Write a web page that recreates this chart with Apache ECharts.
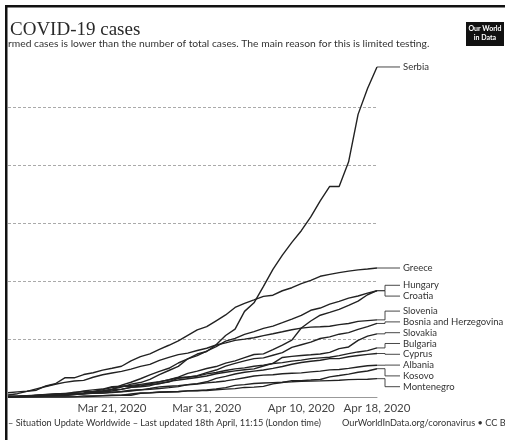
<!DOCTYPE html>
<html>
<head>
<meta charset="utf-8">
<script src="https://cdn.jsdelivr.net/npm/echarts@6/dist/echarts.min.js"></script>
<style>
html,body{margin:0;padding:0;background:#fff;}
#c{width:505px;height:440px;}
</style>
</head>
<body>
<div id="c"></div>
<script>
const dates = ['2020-03-10','2020-03-11','2020-03-12','2020-03-13','2020-03-14','2020-03-15','2020-03-16','2020-03-17','2020-03-18','2020-03-19',
  '2020-03-20','2020-03-21','2020-03-22','2020-03-23','2020-03-24','2020-03-25','2020-03-26','2020-03-27','2020-03-28','2020-03-29',
  '2020-03-30','2020-03-31','2020-04-01','2020-04-02','2020-04-03','2020-04-04','2020-04-05','2020-04-06','2020-04-07','2020-04-08',
  '2020-04-09','2020-04-10','2020-04-11','2020-04-12','2020-04-13','2020-04-14','2020-04-15','2020-04-16','2020-04-17','2020-04-18'];
const tickDates = ['2020-03-21','2020-03-31','2020-04-10','2020-04-18'];
const monthNames = ['Jan','Feb','Mar','Apr','May','Jun','Jul','Aug','Sep','Oct','Nov','Dec'];

const serbia = [5,5,12,19,35,46,48,57,72,89,103,135,171,222,249,303,384,457,528,659,741,785,900,1060,1171,1476,1624,1908,2200,2447,2666,2867,3105,3380,3630,3630,4054,4873,5318,5690];
const greece = [73,89,99,117,190,228,331,331,387,418,464,495,530,624,695,743,821,892,966,1061,1156,1212,1314,1415,1544,1613,1673,1735,1755,1832,1884,1955,2011,2081,2114,2145,2170,2192,2207,2224];
const hungary = [9,13,13,19,30,32,39,50,58,73,85,103,131,167,187,226,261,300,343,408,447,492,525,585,623,678,733,744,817,895,980,1190,1310,1410,1458,1512,1579,1652,1763,1834];
const croatia = [12,13,14,27,32,38,49,57,65,81,105,128,206,254,315,382,442,495,586,657,713,790,867,963,1011,1079,1126,1182,1222,1282,1343,1407,1495,1534,1600,1650,1704,1741,1791,1832];
const slovenia = [34,57,96,141,181,219,253,275,286,341,383,414,442,480,528,562,632,684,730,756,802,841,897,934,977,997,1021,1059,1091,1124,1160,1188,1205,1212,1220,1248,1268,1304,1317,1330];
const bosnia = [5,7,11,13,18,24,25,38,63,89,93,126,135,166,176,195,237,257,324,340,368,420,465,533,579,624,662,674,720,764,855,901,946,1009,1037,1083,1110,1167,1214,1268];
const slovakia = [7,7,16,32,44,54,63,72,105,123,137,178,185,186,204,216,226,269,292,314,336,363,400,426,450,471,485,534,581,682,701,715,728,742,769,835,863,977,1049,1089];
const bulgaria = [4,6,7,23,41,51,52,81,92,94,127,163,187,201,218,242,264,293,331,346,359,399,422,457,485,503,531,549,577,593,618,635,661,675,685,713,747,777,800,846];
const cyprus = [2,6,6,14,26,26,33,46,49,67,67,84,95,116,124,132,146,162,179,214,230,262,320,356,396,426,446,465,494,526,564,595,616,633,662,662,695,715,735,750];
const albania = [10,12,23,33,38,42,51,55,59,64,70,76,89,104,123,146,174,186,197,212,223,243,259,277,304,333,361,377,383,400,409,416,433,446,467,475,494,518,539,548];
const kosovo = [0,0,0,0,2,2,2,2,19,19,24,31,31,31,63,71,86,91,94,106,112,112,125,135,145,165,170,184,226,250,283,283,292,302,347,370,395,427,449,488];
const montenegro = [0,0,0,0,0,0,0,2,3,14,21,27,29,52,69,74,82,85,91,105,109,123,141,161,201,214,233,241,248,255,263,272,274,278,283,288,299,304,307,316];

const countries = [
  ['Serbia', serbia], ['Greece', greece], ['Hungary', hungary], ['Croatia', croatia],
  ['Slovenia', slovenia], ['Bosnia and Herzegovina', bosnia], ['Slovakia', slovakia],
  ['Bulgaria', bulgaria], ['Cyprus', cyprus], ['Albania', albania], ['Kosovo', kosovo], ['Montenegro', montenegro]
];

function fmtDate(s){
  const p = s.split('-');
  return monthNames[parseInt(p[1],10)-1] + ' ' + parseInt(p[2],10) + ', ' + p[0];
}

const chart = echarts.init(document.getElementById('c'), null, {renderer:'canvas'});
const LINE = '#222';
const option = {
  animation: false,
  backgroundColor: '#fff',
  grid: {left: 8, right: 128, top: 49, bottom: 43, containLabel: false},
  xAxis: {
    type: 'category', data: dates, boundaryGap: false,
    axisLine: {show: true, lineStyle: {color: '#999', width: 1}},
    axisTick: {show: false},
    splitLine: {show: false},
    axisLabel: {
      interval: function(i, v){ return tickDates.indexOf(v) >= 0; },
      formatter: function(v){ return fmtDate(v); },
      fontFamily: 'Lato', fontSize: 11.5, color: '#444', margin: 5,
      showMaxLabel: true, hideOverlap: false
    }
  },
  yAxis: {
    type: 'value', min: 0, max: 6000, interval: 1000,
    axisLine: {show: false}, axisTick: {show: false}, axisLabel: {show: false},
    splitLine: {show: true, showMinLine: false, showMaxLine: false,
      lineStyle: {color: '#aaa', type: [3, 2], width: 1}}
  },
  series: countries.map(function(c){
    return {
      name: c[0], type: 'line', data: c[1], symbol: 'none', smooth: false,
      lineStyle: {color: LINE, width: 1.4}, emphasis: {disabled: true}
    };
  })
};
chart.setOption(option);

// label layout with leader lines
const last = dates.length - 1;
const items = countries.map(function(c){
  const p = chart.convertToPixel({gridIndex: 0}, [last, c[1][last]]);
  return {name: c[0], x: p[0], y: p[1], ly: p[1]};
});
items.sort(function(a, b){ return a.y - b.y; });
const gap = 10.8;
for (let k = 0; k < 500; k++) {
  for (let i = 1; i < items.length; i++) {
    const ov = items[i-1].ly + gap - items[i].ly;
    if (ov > 0) { items[i-1].ly -= ov/2; items[i].ly += ov/2; }
  }
}
const graphics = [];
items.forEach(function(it){
  const bend = it.x + 8, tx = it.x + 26;
  graphics.push({type: 'polyline', silent: true,
    shape: {points: [[it.x, it.y], [bend, it.y], [bend, it.ly], [tx - 3, it.ly]]},
    style: {stroke: '#333', lineWidth: 0.9, fill: null}});
  graphics.push({type: 'text', silent: true, x: tx, y: it.ly,
    style: {text: it.name, font: '9.5px Lato', fill: '#333', verticalAlign: 'middle', align: 'left'}});
});

// frame, title, subtitle, logo, footer
graphics.push(
  {type: 'rect', silent: true, shape: {x: 5, y: 5, width: 500, height: 2.5}, style: {fill: '#111'}},
  {type: 'rect', silent: true, shape: {x: 5, y: 5, width: 2.5, height: 435}, style: {fill: '#111'}},
  {type: 'text', silent: true, x: 10, y: 30, style: {text: 'COVID-19 cases', font: '19px "Liberation Serif"', fill: '#2a2a2a', verticalAlign: 'middle'}},
  {type: 'text', silent: true, x: 8, y: 44, style: {text: 'rmed cases is lower than the number of total cases. The main reason for this is limited testing.', font: '10.3px Lato', fill: '#333', verticalAlign: 'middle'}},
  {type: 'rect', silent: true, shape: {x: 466, y: 22, width: 38, height: 24}, style: {fill: '#111'}},
  {type: 'text', silent: true, x: 485, y: 29, style: {text: 'Our World', font: 'bold 7px Lato', fill: '#fff', align: 'center', verticalAlign: 'middle'}},
  {type: 'text', silent: true, x: 485, y: 38, style: {text: 'in Data', font: 'bold 7px Lato', fill: '#fff', align: 'center', verticalAlign: 'middle'}},
  {type: 'text', silent: true, x: 8, y: 423, style: {text: '– Situation Update Worldwide – Last updated 18th April, 11:15 (London time)', font: '9.2px Lato', fill: '#333', verticalAlign: 'middle'}},
  {type: 'text', silent: true, x: 342, y: 423, style: {text: 'OurWorldInData.org/coronavirus • CC BY', font: '9.2px Lato', fill: '#333', verticalAlign: 'middle'}}
);
chart.setOption({graphic: graphics});
</script>
</body>
</html>
